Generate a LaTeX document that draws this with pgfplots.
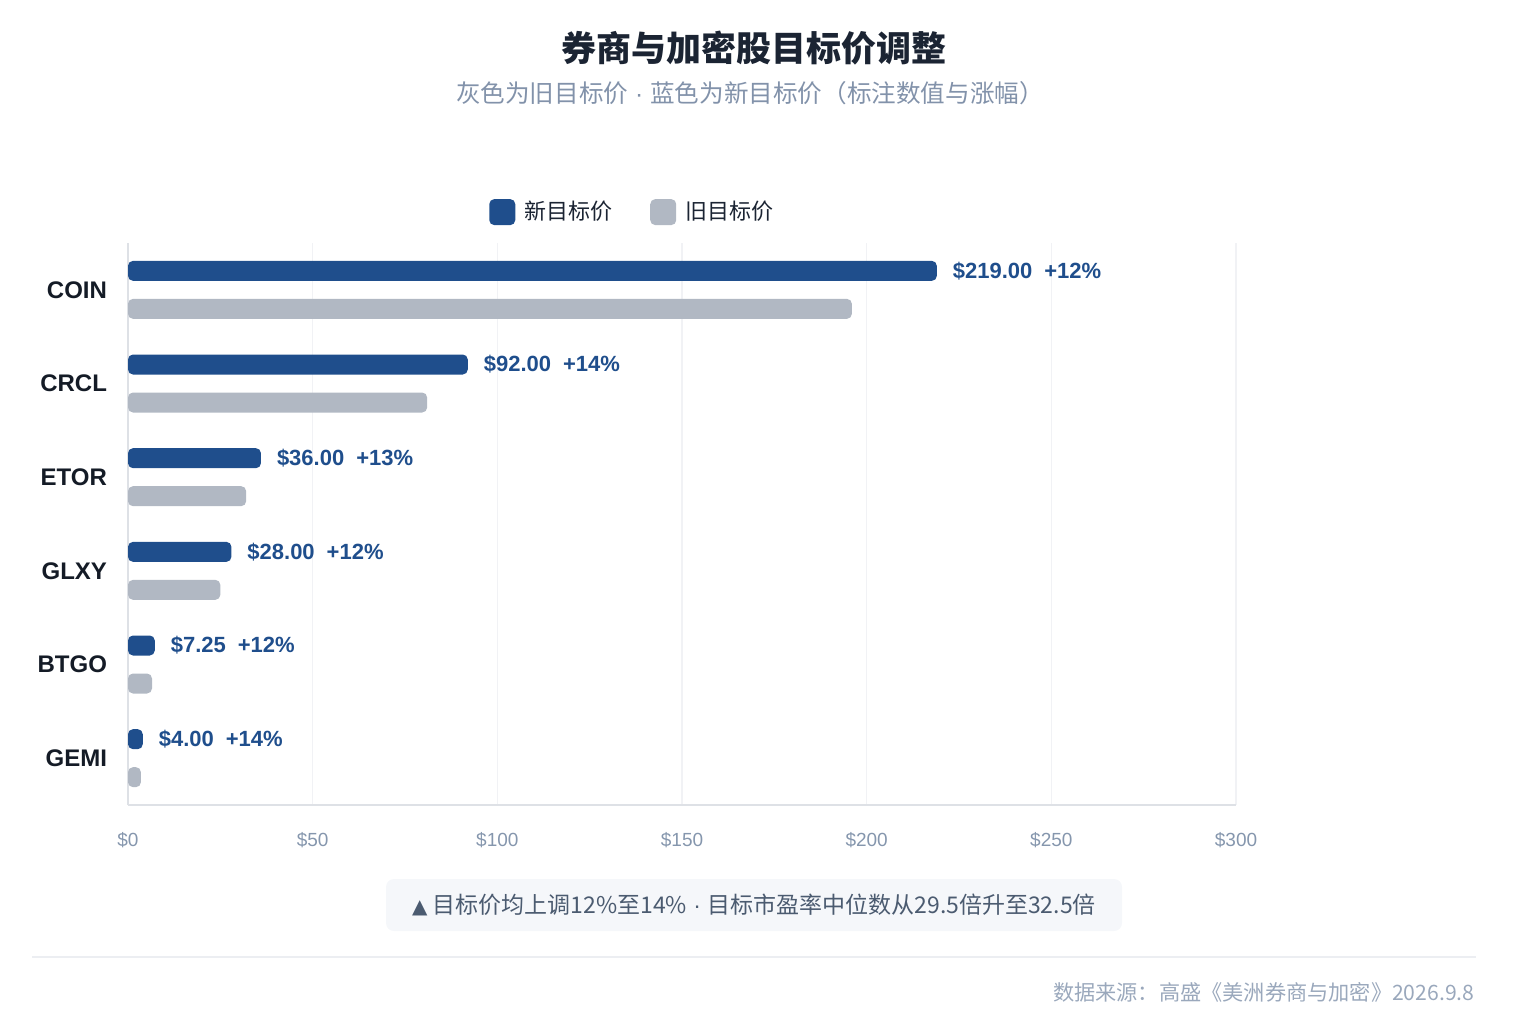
\documentclass[border=0pt]{standalone}
\usepackage{fontspec}
\setmainfont{Liberation Sans}
\newfontfamily\cjk{Noto Sans CJK SC}
\newfontfamily\sym{DejaVu Sans}
\newfontfamily\lat{Liberation Sans}
\usepackage{pgfplots}
\pgfplotsset{compat=1.18}
\definecolor{newblue}{HTML}{1F4E8C}
\definecolor{oldgray}{HTML}{B1B8C3}
\definecolor{titlec}{HTML}{1B2433}
\definecolor{subc}{HTML}{8292AA}
\definecolor{tickc}{HTML}{8596AD}
\definecolor{catc}{HTML}{141B26}
\definecolor{axisc}{HTML}{DEE1E6}
\definecolor{gridc}{HTML}{F1F2F5}
\definecolor{notebg}{HTML}{F5F7FA}
\definecolor{notec}{HTML}{4B5B70}
\definecolor{footc}{HTML}{9AA8BC}
\definecolor{sepc}{HTML}{ECEEF2}
\begin{document}
\begin{tikzpicture}
\path[use as bounding box] (0,0) rectangle (757bp,-508bp);
\node[font=\cjk\bfseries\fontsize{17.5bp}{20bp}\selectfont, text=titlec] at (376.75bp,-24bp) {券商与加密股目标价调整};
\node[font=\cjk\fontsize{12.3bp}{15bp}\selectfont, text=subc] at (375bp,-46.5bp) {灰色为旧目标价{\lat\ ·\ }蓝色为新目标价（标注数值与涨幅）};
\begin{axis}[
  at={(64bp,-402.5bp)}, anchor=south west,
  scale only axis, width=554bp, height=281bp,
  xmin=0, xmax=300, ymin=-0.5, ymax=5.5,
  xbar, bar width=10bp,
  axis lines*=left,
  axis line style={draw=axisc, line width=1bp},
  xmajorgrids, grid style={draw=gridc, line width=0.8bp},
  major tick length=0pt,
  xtick={0,50,100,150,200,250,300},
  xticklabels={\$0,\$50,\$100,\$150,\$200,\$250,\$300},
  xticklabel style={font=\fontsize{9.5bp}{11bp}\selectfont, text=tickc, yshift=-10bp},
  ytick={0,1,2,3,4,5},
  yticklabels={GEMI,BTGO,GLXY,ETOR,CRCL,COIN},
  yticklabel style={font=\bfseries\fontsize{12bp}{14bp}\selectfont, text=catc, xshift=-7bp},
  legend style={at={(axis description cs:0.456,1.055)}, anchor=center, draw=none, fill=none,
    font=\cjk\fontsize{11bp}{13bp}\selectfont, text=titlec,
    /tikz/every even column/.append style={column sep=17bp}, inner sep=0pt},
  legend columns=2,
  legend cell align=left,
  clip=false,
]
\addplot[fill=newblue, draw=none, bar shift=9.5bp, rounded corners=2.5bp,
  legend image code/.code={\fill[newblue, rounded corners=2.5bp] (0bp,-6.5bp) rectangle (13bp,6.5bp);},
  nodes near coords, point meta=explicit symbolic,
  every node near coord/.style={anchor=west, xshift=4.5bp, yshift=9.5bp, text=newblue, font=\bfseries\fontsize{11bp}{13bp}\selectfont}]
  coordinates {
    (219,5) [\$219.00\hspace{6bp}+12\%]
    (92,4) [\$92.00\hspace{6bp}+14\%]
    (36,3) [\$36.00\hspace{6bp}+13\%]
    (28,2) [\$28.00\hspace{6bp}+12\%]
    (7.25,1) [\$7.25\hspace{6bp}+12\%]
    (4,0) [\$4.00\hspace{6bp}+14\%]
  };
\addlegendentry{\hspace{2.5bp}新目标价}
\addplot[fill=oldgray, draw=none, bar shift=-9.5bp, rounded corners=2.5bp,
  legend image code/.code={\fill[oldgray, rounded corners=2.5bp] (0bp,-6.5bp) rectangle (13bp,6.5bp);}]
  coordinates {
    (196,5)
    (81,4)
    (32,3)
    (25,2)
    (6.5,1)
    (3.5,0)
  };
\addlegendentry{\hspace{2.5bp}旧目标价}
\end{axis}
\fill[notebg, rounded corners=4bp] (193bp,-439.5bp) rectangle (561bp,-465.5bp);
\node[font=\cjk\fontsize{11.5bp}{13bp}\selectfont, text=notec] at (377bp,-452.5bp) {{\sym\fontsize{10bp}{11bp}\selectfont ▲} 目标价均上调12\%至14\%{\lat\ ·\ }目标市盈率中位数从29.5倍升至32.5倍};
\draw[sepc, line width=0.8bp] (16bp,-478.5bp) -- (738bp,-478.5bp);
\node[anchor=east, font=\cjk\fontsize{10.6bp}{12bp}\selectfont, text=footc, inner sep=0pt] at (737.5bp,-496bp) {数据来源：高盛《美洲券商与加密》2026.9.8};
\end{tikzpicture}
\end{document}
